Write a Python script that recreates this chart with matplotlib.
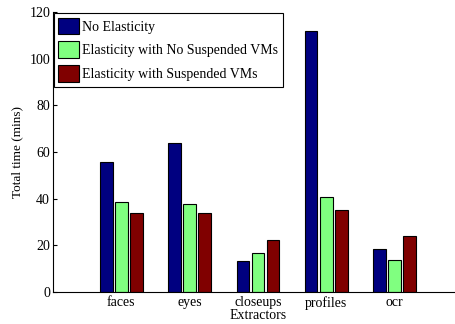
import matplotlib
matplotlib.use("Agg")
import matplotlib.pyplot as plt
import numpy as np

extractors = ["faces", "eyes", "closeups", "profiles", "ocr"]
no_elasticity = [55.7, 64.0, 13.4, 112.0, 18.6]
elastic_no_suspend = [38.7, 37.8, 16.7, 40.7, 13.7]
elastic_suspend = [34.0, 34.0, 22.1, 35.1, 24.1]

series = [
    ("No Elasticity", no_elasticity, "#000080"),
    ("Elasticity with No Suspended VMs", elastic_no_suspend, "#80ff80"),
    ("Elasticity with Suspended VMs", elastic_suspend, "#800000"),
]

plt.rcParams["font.family"] = ["Liberation Serif", "DejaVu Serif"]

fig = plt.figure(figsize=(4.56, 3.24), dpi=100)
ax = fig.add_axes([0.116, 0.099, 0.899, 0.864])

x = np.arange(1, len(extractors) + 1)
offset = 0.22
width = 0.185
for i, (label, vals, color) in enumerate(series):
    ax.bar(x + (i - 1) * offset, vals, width, color=color, edgecolor="black",
           linewidth=0.8, label=label)

ax.set_xlim(0, 6)
ax.set_ylim(0, 120)
ax.set_xticks(x)
ax.set_xticklabels(extractors, fontsize=10)
ax.set_yticks(np.arange(0, 121, 20))
ax.tick_params(axis="y", direction="in", length=3, labelsize=10, pad=2)
ax.tick_params(axis="x", direction="in", length=0, pad=3)
ax.spines["top"].set_visible(False)
ax.spines["right"].set_visible(False)
ax.set_ylabel("Total time (mins)", fontsize=9.5, labelpad=4)
ax.set_xlabel("Extractors", fontsize=10, labelpad=-0.5)

leg = ax.legend(loc="upper left", bbox_to_anchor=(0.0, 1.0), fontsize=10,
                fancybox=False, edgecolor="black", framealpha=1,
                handlelength=1.5, handleheight=1.5, borderpad=0.35,
                labelspacing=0.5, handletextpad=0.2, borderaxespad=0.05)
leg.get_frame().set_linewidth(0.8)

fig.savefig("out.png", dpi=100)
